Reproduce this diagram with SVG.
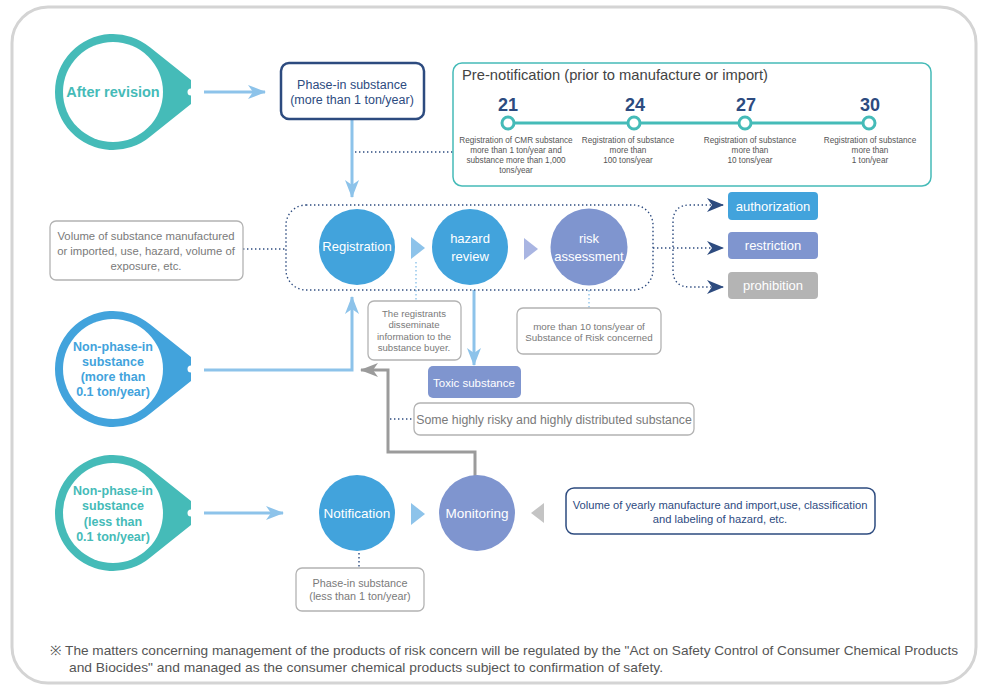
<svg xmlns="http://www.w3.org/2000/svg" width="981" height="685" viewBox="0 0 981 685">
<defs>
<style>
text{font-family:"Liberation Sans",Arial,sans-serif;}
.c{text-anchor:middle;}
.w{fill:#fff;}
.g{fill:#7a7a7a;}
.nv{fill:#2d4b7f;}
.dot{fill:none;stroke:#2d4b7f;stroke-width:1.4;stroke-dasharray:1.4 2.6;}
.ldot{fill:none;stroke:#8dc3ea;stroke-width:1.4;stroke-dasharray:1.4 2.6;}
.lb{fill:none;stroke:#8dc3ea;stroke-width:3;}
.gbox{fill:#fff;stroke:#b3b3b3;stroke-width:1.3;}
.big{font-size:13px;}
</style>
<marker id="ab" viewBox="0 0 18 14" refX="17" refY="7" markerWidth="18" markerHeight="14" markerUnits="userSpaceOnUse" orient="auto">
<path d="M0,0 L18,7 L0,14 L5,7 Z" fill="#8dc3ea"/>
</marker>
<marker id="an" viewBox="0 0 17 14" refX="16" refY="7" markerWidth="17" markerHeight="14" markerUnits="userSpaceOnUse" orient="auto">
<path d="M0,0 L17,7 L0,14 L5,7 Z" fill="#2d4b7f"/>
</marker>
<marker id="ag" viewBox="0 0 18 14" refX="17" refY="7" markerWidth="18" markerHeight="14" markerUnits="userSpaceOnUse" orient="auto">
<path d="M0,0 L18,7 L0,14 L5,7 Z" fill="#9b9b9b"/>
</marker>
<path id="drop" d="M37.3,-44.4 L78,-12 L78,12 L37.3,44.4 A58,58 0 1 1 37.3,-44.4 Z"/>
</defs>

<rect x="12" y="7" width="964" height="676" rx="36" fill="#fff" stroke="#d4d4d4" stroke-width="3"/>

<!-- connectors -->
<g id="connectors">
<line class="lb" x1="204" y1="92" x2="265" y2="92" marker-end="url(#ab)"/>
<line class="lb" x1="352" y1="119" x2="352" y2="197" marker-end="url(#ab)"/>
<line class="dot" x1="355" y1="152" x2="453" y2="152"/>
<line class="dot" x1="243" y1="249" x2="286" y2="249"/>
<polyline class="lb" points="204,370 352,370 352,297" marker-end="url(#ab)"/>
<line class="lb" x1="474" y1="290" x2="474" y2="365" marker-end="url(#ab)"/>
<polyline fill="none" stroke="#9b9b9b" stroke-width="3" points="475,476 475,452 388,452 388,370 361,370" marker-end="url(#ag)"/>
<line class="dot" x1="390" y1="419" x2="414" y2="419"/>
<line class="lb" x1="204" y1="513" x2="283" y2="513" marker-end="url(#ab)"/>
<line class="dot" x1="359" y1="553" x2="359" y2="568"/>
<line class="ldot" x1="416" y1="262" x2="416" y2="301"/>
<line class="ldot" x1="589" y1="290" x2="589" y2="308"/>
<!-- decision branches -->
<line class="dot" x1="653" y1="248" x2="723" y2="248" marker-end="url(#an)"/>
<path class="dot" d="M723,205 L690,205 Q673,205 673,222 L673,270 Q673,287 690,287 L723,287"/>
<line x1="710" y1="205" x2="723" y2="205" stroke="none" marker-end="url(#an)"/>
<line x1="710" y1="287" x2="723" y2="287" stroke="none" marker-end="url(#an)"/>
<!-- triangles -->
<path d="M411,237 L425,248 L411,259 Z" fill="#8dc3ea"/>
<path d="M524,238 L538,249 L524,260 Z" fill="#a9b5e2"/>
<path d="M411,503 L425,514 L411,525 Z" fill="#8dc3ea"/>
<path d="M544,503 L531,513 L544,523 Z" fill="#c4c4c4"/>
</g>

<!-- dotted group frame -->
<rect class="dot" x="286" y="205" width="367" height="85" rx="20"/>

<g id="after-revision">
<use href="#drop" x="113" y="92" fill="#45bbb8"/>
<circle cx="113" cy="92" r="50" fill="#fff"/>
<circle cx="191" cy="92" r="3.5" fill="#fff"/>
<text x="113" y="97" class="c" font-size="14.5" font-weight="bold" fill="#45bbb8">After revision</text>
</g>

<g id="phase-in">
<rect x="281" y="63" width="143" height="56" rx="8" fill="#fff" stroke="#2d4b7f" stroke-width="2.5"/>
<text x="352" y="89" class="c nv" font-size="12.5">Phase-in substance</text>
<text x="352" y="104" class="c nv" font-size="12.5">(more than 1 ton/year)</text>
</g>

<g id="pre-notification">
<rect x="453" y="63" width="478" height="123" rx="9" fill="#fff" stroke="#45bbb8" stroke-width="1.5"/>
<text x="462" y="80" font-size="14.5" fill="#444" textLength="306" lengthAdjust="spacingAndGlyphs">Pre-notification (prior to manufacture or import)</text>
<line x1="508" y1="123" x2="869" y2="123" stroke="#45bbb8" stroke-width="3"/>
<g fill="#fff" stroke="#45bbb8" stroke-width="3">
<circle cx="508" cy="123" r="6"/>
<circle cx="634" cy="123" r="6"/>
<circle cx="745" cy="123" r="6"/>
<circle cx="869" cy="123" r="6"/>
</g>
<g class="nv" font-size="18" font-weight="bold" text-anchor="middle">
<text x="508" y="111">21</text>
<text x="635" y="111">24</text>
<text x="746" y="111">27</text>
<text x="870" y="111">30</text>
</g>
<g fill="#555" font-size="8.2" text-anchor="middle">
<text x="516" y="143">Registration of CMR substance</text>
<text x="516" y="153">more than 1 ton/year and</text>
<text x="516" y="163">substance more than 1,000</text>
<text x="516" y="173">tons/year</text>
<text x="628" y="143">Registration of substance</text>
<text x="628" y="153">more than</text>
<text x="628" y="163">100 tons/year</text>
<text x="750" y="143">Registration of substance</text>
<text x="750" y="153">more than</text>
<text x="750" y="163">10 tons/year</text>
<text x="870" y="143">Registration of substance</text>
<text x="870" y="153">more than</text>
<text x="870" y="163">1 ton/year</text>
</g>
</g>

<g id="volume-box">
<rect class="gbox" x="50" y="221" width="193" height="59" rx="6"/>
<text x="146" y="240" class="c g" font-size="11.3">Volume of substance manufactured</text>
<text x="146" y="255" class="c g" font-size="11.3">or imported, use, hazard, volume of</text>
<text x="146" y="270" class="c g" font-size="11.3">exposure, etc.</text>
</g>

<g id="registration">
<circle cx="357" cy="247" r="38" fill="#42a3dc"/>
<text x="357" y="251" class="c w big">Registration</text>
</g>

<g id="hazard-review">
<circle cx="470" cy="247" r="38" fill="#42a3dc"/>
<text x="470" y="243" class="c w big">hazard</text>
<text x="470" y="261" class="c w big">review</text>
</g>

<g id="risk-assessment">
<circle cx="589" cy="247" r="38.5" fill="#7f95cf"/>
<text x="589" y="243" class="c w big">risk</text>
<text x="589" y="261" class="c w big">assessment</text>
</g>

<g id="authorization">
<rect x="728" y="192" width="90" height="28" rx="4" fill="#42a3dc"/>
<text x="773" y="211" class="c w big">authorization</text>
</g>
<g id="restriction">
<rect x="728" y="232" width="90" height="27" rx="4" fill="#7f95cf"/>
<text x="773" y="250" class="c w big">restriction</text>
</g>
<g id="prohibition">
<rect x="728" y="272" width="90" height="27" rx="4" fill="#b4b4b4"/>
<text x="773" y="290" class="c w big">prohibition</text>
</g>

<g id="registrants-note">
<rect class="gbox" x="368" y="301" width="93" height="59" rx="6"/>
<g class="g" font-size="9.6" text-anchor="middle">
<text x="414" y="317">The registrants</text>
<text x="414" y="328">disseminate</text>
<text x="414" y="340">information to the</text>
<text x="414" y="351">substance buyer.</text>
</g>
</g>

<g id="risk-note">
<rect class="gbox" x="517" y="308" width="144" height="46" rx="6"/>
<text x="589" y="330" class="c g" font-size="9.8">more than 10 tons/year of</text>
<text x="589" y="341" class="c g" font-size="9.8">Substance of Risk concerned</text>
</g>

<g id="non-phase-in-more">
<use href="#drop" x="113" y="369" fill="#42a3dc"/>
<circle cx="113" cy="369" r="50" fill="#fff"/>
<circle cx="191" cy="369" r="3.5" fill="#fff"/>
<g font-size="12.5" font-weight="bold" fill="#42a3dc" text-anchor="middle">
<text x="113" y="351">Non-phase-in</text>
<text x="113" y="366">substance</text>
<text x="113" y="381">(more than</text>
<text x="113" y="396">0.1 ton/year)</text>
</g>
</g>

<g id="toxic-substance">
<rect x="428" y="366" width="93" height="32" rx="5" fill="#7f95cf"/>
<text x="474" y="387" class="c w" font-size="11.5">Toxic substance</text>
</g>

<g id="highly-risky-note">
<rect class="gbox" x="414" y="403" width="280" height="32" rx="6"/>
<text x="554" y="424" class="c g" font-size="12.3">Some highly risky and highly distributed substance</text>
</g>

<g id="non-phase-in-less">
<use href="#drop" x="113" y="513" fill="#45bbb8"/>
<circle cx="113" cy="513" r="50" fill="#fff"/>
<circle cx="191" cy="513" r="3.5" fill="#fff"/>
<g font-size="12.5" font-weight="bold" fill="#45bbb8" text-anchor="middle">
<text x="113" y="495">Non-phase-in</text>
<text x="113" y="510">substance</text>
<text x="113" y="526">(less than</text>
<text x="113" y="541">0.1 ton/year)</text>
</g>
</g>

<g id="notification">
<circle cx="357" cy="513" r="38" fill="#42a3dc"/>
<text x="357" y="518" class="c w" font-size="13.5">Notification</text>
</g>

<g id="monitoring">
<circle cx="477" cy="513" r="38" fill="#7f95cf"/>
<text x="477" y="518" class="c w" font-size="13.5">Monitoring</text>
</g>

<g id="yearly-volume">
<rect x="566" y="488" width="309" height="46" rx="8" fill="#fff" stroke="#2d4b7f" stroke-width="1.5"/>
<text x="720" y="509" class="c nv" font-size="11.2">Volume of yearly manufacture and import,use, classification</text>
<text x="720" y="523" class="c nv" font-size="11.2">and labeling of hazard, etc.</text>
</g>

<g id="phase-in-less">
<rect class="gbox" x="296" y="568" width="128" height="43" rx="6"/>
<text x="360" y="587" class="c g" font-size="10.8">Phase-in substance</text>
<text x="360" y="600" class="c g" font-size="10.8">(less than 1 ton/year)</text>
</g>

<g id="footnote" fill="#555" font-size="13">
<text x="50" y="655" textLength="908" lengthAdjust="spacingAndGlyphs">※ The matters concerning management of the products of risk concern will be regulated by the "Act on Safety Control of Consumer Chemical Products</text>
<text x="69" y="672" textLength="594" lengthAdjust="spacingAndGlyphs">and Biocides" and managed as the consumer chemical products subject to confirmation of safety.</text>
</g>
</svg>
